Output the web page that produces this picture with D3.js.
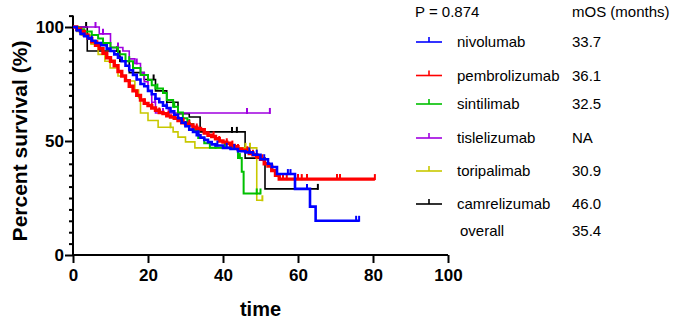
<!DOCTYPE html>
<html>
<head>
<meta charset="utf-8">
<script src="https://cdn.jsdelivr.net/npm/d3@7"></script>
<style>
  html, body { margin: 0; padding: 0; background: #fff; }
  svg { display: block; font-family: "Liberation Sans", Arial, sans-serif; }
</style>
</head>
<body>
<div id="chart"></div>
<script>
// KM steps: event times (months) and survival (%) after each event
const nivoT = [0, 1, 2, 3, 4, 5, 6, 7.5, 9, 10, 11, 12, 13, 14, 15, 16, 17, 18, 19, 20, 21, 22, 23, 24, 25, 26, 27, 28, 29, 30, 31, 32, 33, 34, 35, 36, 37, 38, 40, 42, 44, 46, 48, 50, 52, 53, 54.4, 59.2, 63.2, 64.7];
const nivoS = [100, 98.5, 97, 96, 95, 94, 93, 92, 90.5, 89.5, 88, 86.5, 85, 83, 81, 79, 77, 75, 74, 72, 70.5, 68.5, 67, 65.5, 64.5, 63, 61.5, 60, 58, 56.5, 55, 54, 52.5, 51.5, 50.5, 49.5, 48.5, 48, 47, 46.5, 45.5, 45, 44, 42, 40, 38.6, 35.5, 29, 21.2, 15];
const nivoCens = [5, 12, 17, 25, 30, 33.5, 38.5, 41, 43, 47, 49, 51, 57.3, 58, 62.4, 75.5, 76.3];

const pembroT = [0, 1, 2, 3, 4, 5, 6, 7, 8, 9, 10, 11, 12, 13, 14, 15, 16, 17, 18, 19, 20, 21, 22, 23, 24, 25, 26, 27, 28, 29, 30, 31, 32, 33, 34, 35, 36, 37, 38, 39, 40, 41, 42, 43, 44, 45, 46, 47, 48, 49, 50, 51, 52, 53, 54, 55];
const pembroS = [100, 99, 98, 96.5, 95, 93.5, 92, 90.5, 88.5, 86.5, 85, 83, 80.5, 78.5, 76.5, 74, 72, 70, 68, 66.5, 65.5, 64.5, 63.5, 62.5, 62, 61, 60.5, 60, 59, 58, 57.5, 57, 56, 55.5, 55, 53.5, 52.5, 52, 51, 50, 49.5, 49, 48, 47.5, 46.5, 46, 45.5, 44.5, 44, 43, 42, 40, 39, 37, 35, 33.3];
const pembroCens = [3, 6.5, 9, 14, 19, 21, 23, 25.5, 27, 29.5, 31, 33, 35, 37.5, 39, 41, 42.5, 44, 46.5, 48, 50.5, 56, 57, 60, 61, 62.4, 70.4, 71.2, 80.5];

const sintiT = [0, 1.5, 3, 5, 6.7, 8, 10, 12, 14, 16, 18, 20, 21, 22, 24, 25, 26.7, 28, 29.3, 30.5, 32, 33.4, 35, 36.5, 44, 45, 45.5];
const sintiS = [100, 99, 98, 96.5, 95, 93, 91, 88, 85, 82, 79, 76.7, 74.5, 73, 71, 68, 65, 62.5, 60, 57.5, 54.8, 51.3, 49, 47, 42.5, 36.5, 27];
const sintiCens = [8, 15, 22.5, 27, 31, 38, 40.5, 44.5, 49, 50];

const tisleT = [0, 7, 10, 13.3, 15, 16.5, 18, 19, 20, 21, 22];
const tisleS = [100, 97, 91, 89.5, 86, 84, 80, 76, 72, 67, 62.3];
const tisleCens = [6, 8, 12, 17, 21.9, 24, 25.5, 46.4, 52.5];

const toriT = [0, 1, 2.2, 4.8, 6.7, 8.5, 9.9, 12, 14, 16.5, 17.5, 18, 20, 22.7, 26.7, 28, 30, 32.5, 49];
const toriS = [100, 98, 96.5, 92.5, 88, 85, 82, 78.5, 76.3, 72.4, 69, 62.3, 59, 56, 54, 51.7, 49.6, 47, 24];
const toriCens = [26, 46, 47.2, 50.5];

const camreT = [0, 3.8, 12.5, 15, 19, 22, 25, 28, 31, 33.9, 45.9, 51.2];
const camreS = [100, 89.5, 85, 80, 77, 72, 67, 62, 60.5, 54, 42.5, 29];
const camreCens = [3.5, 11.8, 12.6, 21.5, 42.4, 43.7, 65.3];

const drugNames = ['nivolumab', 'pembrolizumab', 'sintilimab', 'tislelizumab', 'toripalimab', 'camrelizumab'];
const drugColors = ['#0000ff', '#ff0000', '#00c000', '#a000e0', '#c8c800', '#000000'];
const mosValues = ['33.7', '36.1', '32.5', 'NA', '30.9', '46.0'];
const overallMos = '35.4';
const pValue = 'P = 0.874';

const xTicks = [0, 20, 40, 60, 80, 100];
const yMajor = [0, 50, 100];

const series = [
  { T: nivoT, S: nivoS, cens: nivoCens, w: 2.6 },
  { T: pembroT, S: pembroS, cens: pembroCens, w: 3.4 },
  { T: sintiT, S: sintiS, cens: sintiCens, w: 2 },
  { T: tisleT, S: tisleS, cens: tisleCens, w: 1.6 },
  { T: toriT, S: toriS, cens: toriCens, w: 1.6 },
  { T: camreT, S: camreS, cens: camreCens, w: 1.6 }
];
const drawOrder = [5, 4, 3, 2, 1, 0];

const W = 678, H = 320;
const svg = d3.select('#chart').append('svg').attr('width', W).attr('height', H);

const x = d3.scaleLinear().domain([0, 100]).range([73, 448]);
const y = d3.scaleLinear().domain([0, 105]).range([255, 15.6]);

// axes
const xAxis = svg.append('g').attr('transform', `translate(0,${y(0)})`)
  .call(d3.axisBottom(x).tickValues(xTicks).tickSize(8).tickPadding(6));
const yAxis = svg.append('g').attr('transform', `translate(${x(0)},0)`)
  .call(d3.axisLeft(y).tickValues(d3.range(0, 106, 5)).tickSize(4).tickPadding(5)
    .tickFormat(d => yMajor.includes(d) ? d : ''));
yAxis.selectAll('.tick line').filter(d => yMajor.includes(d)).attr('x2', -8);
[xAxis, yAxis].forEach(g => {
  g.select('.domain').attr('stroke', '#000').attr('stroke-width', 2);
  g.selectAll('.tick line').attr('stroke', '#000').attr('stroke-width', 2);
  g.selectAll('.tick text').attr('fill', '#000').style('font-size', '17px').style('font-weight', 'bold')
    .style('font-family', '"Liberation Sans", Arial, sans-serif');
});
xAxis.selectAll('.domain').attr('d', `M${x(0)},0H${x(100)}`);
yAxis.selectAll('.domain').attr('d', `M0,${y(105)}V${y(0)}`);

svg.append('text').attr('transform', `translate(27,${y(50)}) rotate(-90)`).attr('text-anchor', 'middle')
  .style('font-size', '21px').style('font-weight', 'bold').text('Percent survival (%)');
svg.append('text').attr('x', (x(0) + x(100)) / 2).attr('y', 316).attr('text-anchor', 'middle')
  .style('font-size', '20px').style('font-weight', 'bold').text('time');

// curves
const line = d3.line().x(d => x(d[0])).y(d => y(d[1])).curve(d3.curveStepAfter);
function survAt(s, t) {
  let v = s.S[0];
  s.T.forEach((tt, i) => { if (tt <= t) v = s.S[i]; });
  return v;
}
const gCurves = svg.append('g').attr('fill', 'none');
drawOrder.forEach(i => {
  const s = series[i];
  const end = Math.max(s.T[s.T.length - 1], d3.max(s.cens));
  const pts = s.T.map((t, k) => [t, s.S[k]]).concat([[end, s.S[s.S.length - 1]]]);
  const g = gCurves.append('g').attr('stroke', drugColors[i]);
  g.append('path').attr('d', line(pts)).attr('stroke-width', s.w);
  g.selectAll('line').data(s.cens).enter().append('line')
    .attr('x1', d => x(d)).attr('x2', d => x(d))
    .attr('y1', d => y(survAt(s, d)) + 1).attr('y2', d => y(survAt(s, d)) - 5)
    .attr('stroke-width', 2);
});

// legend
const lg = svg.append('g').style('font-size', '15px');
lg.append('text').attr('x', 415).attr('y', 17).text(pValue);
lg.append('text').attr('x', 572).attr('y', 17).text('mOS (months)');
const rowY = [42, 75.5, 104, 138, 171, 204];
drugNames.forEach((n, i) => {
  const r = lg.append('g').attr('stroke', drugColors[i]);
  r.append('line').attr('x1', 416).attr('x2', 442).attr('y1', rowY[i]).attr('y2', rowY[i]).attr('stroke-width', 1.6);
  r.append('line').attr('x1', 429).attr('x2', 429).attr('y1', rowY[i]).attr('y2', rowY[i] - 5).attr('stroke-width', 1.6);
  lg.append('text').attr('x', 457).attr('y', rowY[i] + 5).text(n);
  lg.append('text').attr('x', 572).attr('y', rowY[i] + 5).text(mosValues[i]);
});
lg.append('text').attr('x', 460).attr('y', 236).text('overall');
lg.append('text').attr('x', 572).attr('y', 236).text(overallMos);
</script>
</body>
</html>
